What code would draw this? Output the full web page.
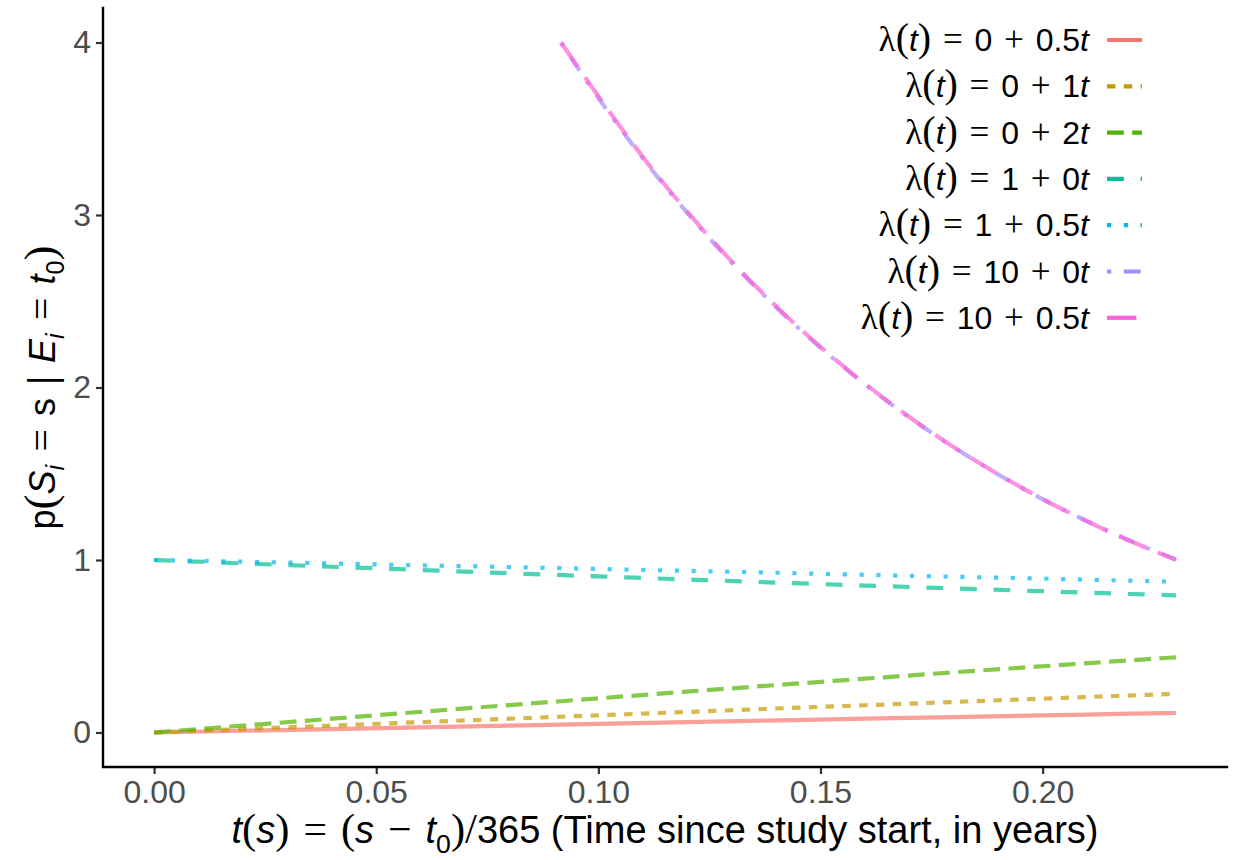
<!DOCTYPE html>
<html>
<head>
<meta charset="utf-8">
<script src="https://cdn.jsdelivr.net/npm/d3@7"></script>
<style>
  body { margin: 0; background: #fff; }
  svg { display: block; }
</style>
</head>
<body>
<div id="chart"></div>
<script>
// time grids (years since study start)
const tLow = [0, 0.02, 0.04, 0.06, 0.08, 0.10, 0.12, 0.14, 0.16, 0.18, 0.20, 0.22, 0.23]
const tHigh = [0.0916, 0.10, 0.11, 0.12, 0.13, 0.14, 0.15, 0.16, 0.17, 0.18, 0.19, 0.20, 0.21, 0.22, 0.23]

// values
const valsA = [0, 0.010, 0.020, 0.030, 0.040, 0.050, 0.060, 0.070, 0.080, 0.089, 0.099, 0.109, 0.113]
const valsB = [0, 0.020, 0.040, 0.060, 0.080, 0.100, 0.119, 0.139, 0.158, 0.177, 0.196, 0.215, 0.224]
const valsC = [0, 0.040, 0.080, 0.120, 0.159, 0.198, 0.237, 0.275, 0.312, 0.349, 0.384, 0.419, 0.436]
const valsD = [1, 0.980, 0.961, 0.942, 0.923, 0.905, 0.887, 0.869, 0.852, 0.835, 0.819, 0.803, 0.795]
const valsE = [1, 0.990, 0.980, 0.969, 0.959, 0.948, 0.937, 0.926, 0.914, 0.903, 0.892, 0.880, 0.874]
const valsF = [4.0, 3.679, 3.329, 3.012, 2.725, 2.466, 2.231, 2.019, 1.827, 1.653, 1.496, 1.353, 1.225, 1.108, 1.003]
const valsG = [4.0, 3.688, 3.337, 3.019, 2.731, 2.471, 2.235, 2.022, 1.829, 1.654, 1.497, 1.353, 1.224, 1.107, 1.001]

const intercepts = ['0', '0', '0', '1', '1', '10', '10']
const slopes = ['0.5', '1', '2', '0', '0.5', '0', '0.5']
const xTicks = [0, 0.05, 0.10, 0.15, 0.20]
const yTicks = [0, 1, 2, 3, 4]

const colors = ['#F8766D', '#C49A00', '#53B400', '#00C094', '#00B6EB', '#A58AFF', '#FB61D7']
// ggplot linetypes solid, 22, 42, 44, 13, 1343, 73 (unit = line width)
const u = 4.2
const dashes = [
  'none',
  [2, 2], [4, 2], [4, 4], [1, 3], [1, 3, 4, 3], [7, 3]
].map(d => (d === 'none' ? null : d.map(v => v * u).join(',')))

const series = [
  { t: tLow, v: valsA },
  { t: tLow, v: valsB },
  { t: tLow, v: valsC },
  { t: tLow, v: valsD },
  { t: tLow, v: valsE },
  { t: tHigh, v: valsF },
  { t: tHigh, v: valsG }
].map((s, i) => ({
  points: s.t.map((t, j) => ({ t: t, v: s.v[j] })),
  color: colors[i],
  dash: dashes[i],
  intercept: intercepts[i],
  slope: slopes[i]
}))

const W = 1233
const H = 860
const panel = { left: 103, right: 1227, top: 8, bottom: 767 }

const svg = d3
  .select('#chart')
  .append('svg')
  .attr('width', W)
  .attr('height', H)

const tMax = 0.23
const xScale = d3
  .scaleLinear()
  .domain([-0.05 * tMax, tMax * 1.05])
  .range([panel.left, panel.right])

const yScale = d3
  .scaleLinear()
  .domain([-0.2, 4.2])
  .range([panel.bottom, panel.top])

const sans = "'Liberation Sans', Arial, Helvetica, sans-serif"
const serif = "'Liberation Serif', 'Times New Roman', serif"

// lines
const line = d3
  .line()
  .x(d => xScale(d.t))
  .y(d => yScale(d.v))
  .curve(d3.curveMonotoneX)

svg
  .append('g')
  .selectAll('path')
  .data(series)
  .enter()
  .append('path')
  .attr('d', d => line(d.points))
  .attr('fill', 'none')
  .attr('stroke', d => d.color)
  .attr('stroke-opacity', 0.7)
  .attr('stroke-width', 4.2)
  .attr('stroke-dasharray', d => d.dash)

// axes
const xAxis = d3
  .axisBottom(xScale)
  .tickValues(xTicks)
  .tickFormat(d3.format('.2f'))
  .tickSize(7)
  .tickSizeOuter(0)
  .tickPadding(6)

const yAxis = d3
  .axisLeft(yScale)
  .tickValues(yTicks)
  .tickFormat(d3.format('d'))
  .tickSize(7)
  .tickSizeOuter(0)
  .tickPadding(5)

const gx = svg
  .append('g')
  .attr('transform', `translate(0,${panel.bottom})`)
  .call(xAxis)

const gy = svg
  .append('g')
  .attr('transform', `translate(${panel.left},0)`)
  .call(yAxis)

;[gx, gy].forEach(g => {
  g.select('.domain').remove()
  g.selectAll('.tick line').attr('stroke', '#333').attr('stroke-width', 2.2)
  g.selectAll('.tick text')
    .attr('fill', '#4D4D4D')
    .style('font-family', sans)
    .style('font-size', '32px')
})

// axis lines (theme_classic)
svg
  .append('path')
  .attr('d', `M${panel.left},${panel.top}V${panel.bottom}H${panel.right}`)
  .attr('fill', 'none')
  .attr('stroke', '#000')
  .attr('stroke-width', 2.4)
  .attr('stroke-linecap', 'square')

// rich text helper: parts are [text, kind]
const sp = '\u2004'
function rich(textSel, parts, size, parenScale) {
  let shift = 0
  parts.forEach(p => {
    const kind = p[1]
    const ts = textSel.append('tspan').text(p[0])
    let fam = sans
    let style = 'normal'
    let fs = size
    let want = 0
    if (kind === 'i') style = 'italic'
    if (kind === 'y') {
      fam = serif
      fs = size * 1.1
    }
    if (kind === 'yp') {
      fam = serif
      fs = size * parenScale
    }
    if (kind === 'sub' || kind === 'isub') {
      fs = size * 0.7
      want = size * 0.25
      if (kind === 'isub') style = 'italic'
    }
    if (kind === 'bar') {
      fam = serif
      fs = size * 1.1
      ts.attr('font-weight', 'bold')
    }
    ts.attr('font-family', fam)
      .attr('font-style', style)
      .attr('font-size', fs)
    if (want !== shift) {
      ts.attr('dy', want - shift)
      shift = want
    }
  })
}

// x axis title
const xTitle = svg
  .append('text')
  .attr('x', (panel.left + panel.right) / 2)
  .attr('y', 843)
  .attr('text-anchor', 'middle')
  .attr('fill', '#000')
  .style('white-space', 'pre')
rich(xTitle, [
  ['t', 'i'], ['(', 'yp'], ['s', 'i'], [')', 'yp'], [sp + '=' + sp, 'y'],
  ['(', 'yp'], ['s', 'i'], [sp + '\u2212' + sp, 'y'], ['t', 'i'], ['0', 'sub'],
  [')', 'yp'], ['/', 'yp'], ['365 (Time since study start, in years)', 's']
], 38, 1.12)

// y axis title
const yTitle = svg
  .append('text')
  .attr('transform', `translate(55,${(panel.top + panel.bottom) / 2}) rotate(-90)`)
  .attr('text-anchor', 'middle')
  .attr('fill', '#000')
  .style('white-space', 'pre')
rich(yTitle, [
  ['p', 's'], ['(', 'yp'], ['S', 'i'], ['i', 'isub'], [sp + '=' + sp, 'y'], ['s', 's'],
  [sp + '|' + sp, 'bar'], ['E', 'i'], ['i', 'isub'], [sp + '=' + sp, 'y'], ['t', 'i'], ['0', 'sub'],
  [')', 'yp']
], 36, 1.25)

// legend
const legendTop = 40
const legendStep = 46.3
const keyX0 = 1107
const keyX1 = 1142

const legend = svg
  .append('g')
  .selectAll('g')
  .data(series)
  .enter()
  .append('g')
  .attr('transform', (d, i) => `translate(0,${legendTop + i * legendStep})`)

legend
  .append('line')
  .attr('x1', keyX0)
  .attr('x2', keyX1)
  .attr('y1', 0)
  .attr('y2', 0)
  .attr('stroke', d => d.color)
  .attr('stroke-width', 4.2)
  .attr('stroke-dasharray', d => d.dash)

legend.each(function(d) {
  const txt = d3
    .select(this)
    .append('text')
    .attr('x', 1089)
    .attr('y', 11)
    .attr('text-anchor', 'end')
    .attr('fill', '#000')
    .style('white-space', 'pre')
  rich(txt, [
    ['\u03bb', 'y'], ['(', 'yp'], ['t', 'i'], [')', 'yp'], [sp + '=' + sp, 'y'],
    [d.intercept, 's'], [sp + '+' + sp, 'y'], [d.slope, 's'], ['t', 'i']
  ], 32, 1.25)
})
</script>
</body>
</html>
